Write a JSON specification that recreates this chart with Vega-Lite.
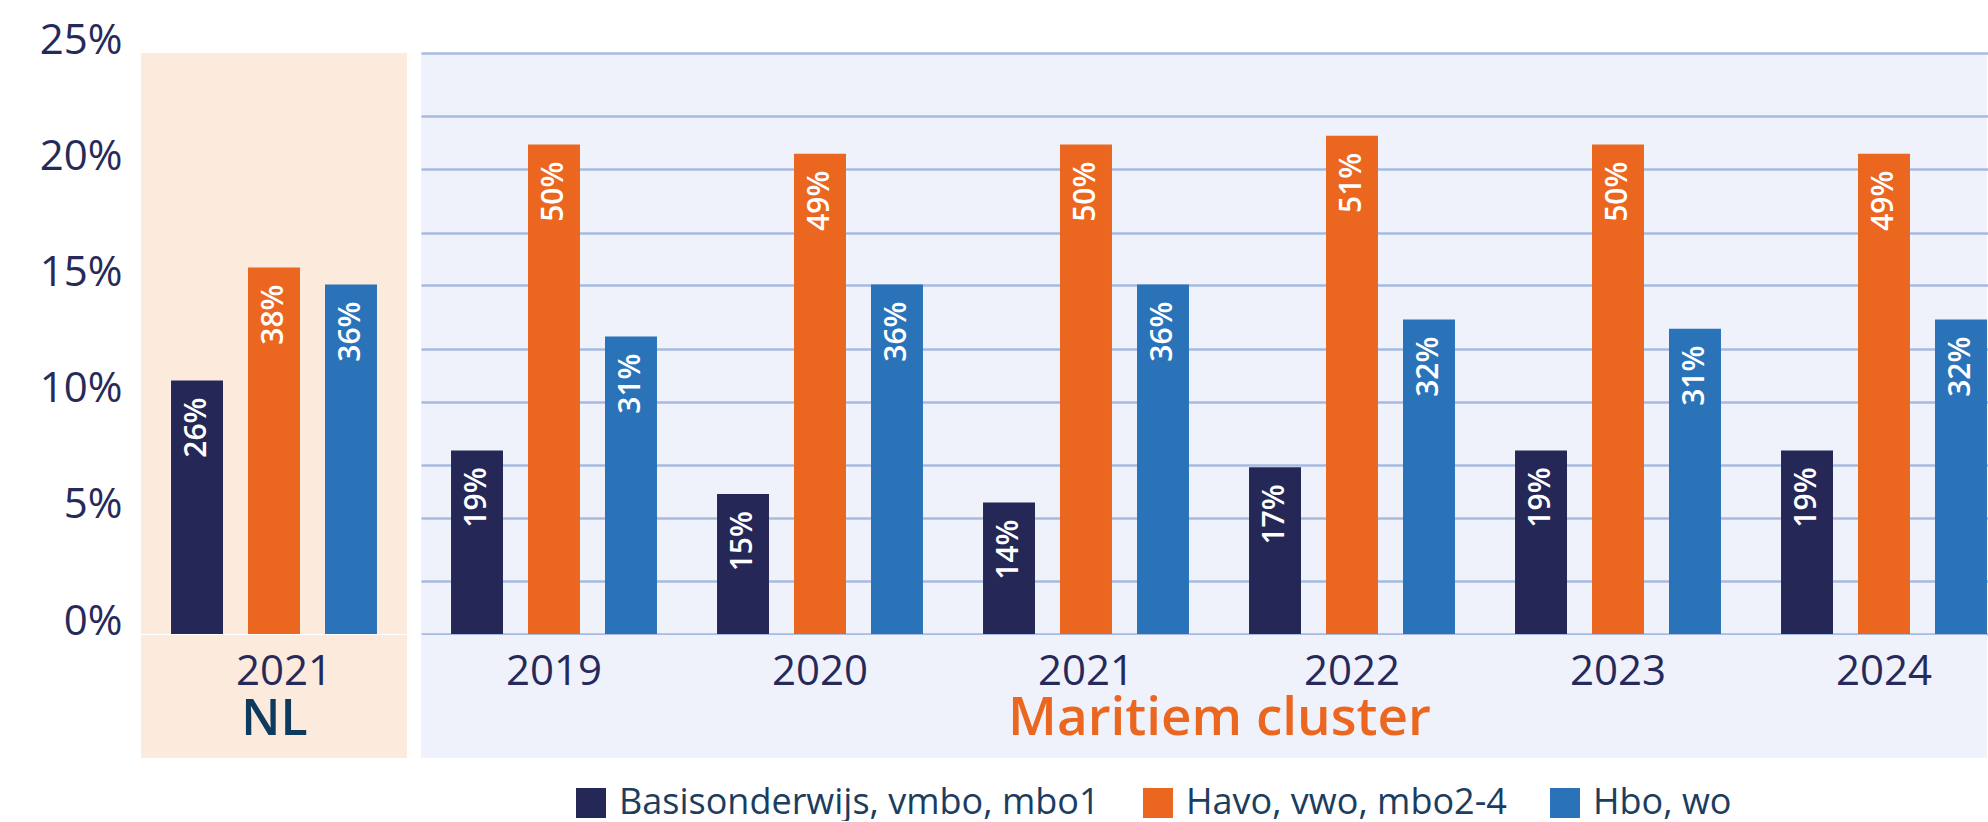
{
  "$schema": "https://vega.github.io/schema/vega-lite/v6.json",
  "background": "white",
  "padding": {"left": 39, "top": 19, "right": 0, "bottom": 0},
  "config": {
    "font": "Open Sans",
    "view": {"stroke": null},
    "axis": {"tickSize": 0, "ticks": false, "domain": false}
  },
  "spacing": 14,
  "datasets": {
    "nl": [
      {"year": "2021", "cat": "Basisonderwijs, vmbo, mbo1", "value": 10.91, "label": "26%"},
      {"year": "2021", "cat": "Havo, vwo, mbo2-4", "value": 15.77, "label": "38%"},
      {"year": "2021", "cat": "Hbo, wo", "value": 15.04, "label": "36%"}
    ],
    "mc": [
      {"year": "2019", "cat": "Basisonderwijs, vmbo, mbo1", "value": 7.90, "label": "19%"},
      {"year": "2019", "cat": "Havo, vwo, mbo2-4", "value": 21.06, "label": "50%"},
      {"year": "2019", "cat": "Hbo, wo", "value": 12.80, "label": "31%"},
      {"year": "2020", "cat": "Basisonderwijs, vmbo, mbo1", "value": 6.02, "label": "15%"},
      {"year": "2020", "cat": "Havo, vwo, mbo2-4", "value": 20.67, "label": "49%"},
      {"year": "2020", "cat": "Hbo, wo", "value": 15.04, "label": "36%"},
      {"year": "2021", "cat": "Basisonderwijs, vmbo, mbo1", "value": 5.66, "label": "14%"},
      {"year": "2021", "cat": "Havo, vwo, mbo2-4", "value": 21.06, "label": "50%"},
      {"year": "2021", "cat": "Hbo, wo", "value": 15.04, "label": "36%"},
      {"year": "2022", "cat": "Basisonderwijs, vmbo, mbo1", "value": 7.17, "label": "17%"},
      {"year": "2022", "cat": "Havo, vwo, mbo2-4", "value": 21.44, "label": "51%"},
      {"year": "2022", "cat": "Hbo, wo", "value": 13.53, "label": "32%"},
      {"year": "2023", "cat": "Basisonderwijs, vmbo, mbo1", "value": 7.90, "label": "19%"},
      {"year": "2023", "cat": "Havo, vwo, mbo2-4", "value": 21.06, "label": "50%"},
      {"year": "2023", "cat": "Hbo, wo", "value": 13.14, "label": "31%"},
      {"year": "2024", "cat": "Basisonderwijs, vmbo, mbo1", "value": 7.90, "label": "19%"},
      {"year": "2024", "cat": "Havo, vwo, mbo2-4", "value": 20.67, "label": "49%"},
      {"year": "2024", "cat": "Hbo, wo", "value": 13.53, "label": "32%"}
    ]
  },
  "resolve": {"scale": {"y": "shared", "x": "independent", "xOffset": "independent", "color": "shared"}},
  "hconcat": [
    {
      "width": 266,
      "height": 581,
      "view": {"fill": "#fcebdd", "stroke": null},
      "data": {"name": "nl"},
      "layer": [
        {
          "mark": {"type": "rect", "color": "#fcebdd"},
          "encoding": {
            "y": {"datum": -0.05, "type": "quantitative"},
            "y2": {"datum": -5.34}
          }
        },
        {
          "mark": {"type": "bar"},
          "encoding": {
            "x": {"field": "year", "type": "nominal", "scale": {"paddingInner": 0, "paddingOuter": 0},
              "axis": {"title": "NL", "labelAngle": 0, "labelFontSize": 42, "labelColor": "#262a5b", "labelPadding": 17, "labelOffset": 10,
                "titleFontSize": 50, "titleFontWeight": 600, "titleColor": "#0d3a5d", "titlePadding": 2, "zindex": 1}},
            "xOffset": {"field": "cat", "type": "nominal", "sort": ["Basisonderwijs, vmbo, mbo1", "Havo, vwo, mbo2-4", "Hbo, wo"],
              "scale": {"paddingInner": 0.325, "paddingOuter": 0.39}},
            "y": {"field": "value", "type": "quantitative", "scale": {"domain": [0, 25], "nice": false},
              "axis": {"title": null, "values": [0, 5, 10, 15, 20, 25], "labelExpr": "datum.value + '%'", "grid": false,
                "labelFontSize": 42, "labelColor": "#262a5b", "labelPadding": 19, "labelBaseline": "alphabetic"}},
            "color": {"field": "cat", "type": "nominal",
              "scale": {"domain": ["Basisonderwijs, vmbo, mbo1", "Havo, vwo, mbo2-4", "Hbo, wo"], "range": ["#252857", "#eb661f", "#2a73b9"]},
              "legend": {"orient": "none", "legendX": 432, "legendY": 732, "direction": "horizontal", "title": null,
                "symbolType": "square", "symbolSize": 900, "symbolStrokeWidth": 0, "labelFontSize": 36, "labelColor": "#1b3d5f",
                "labelOffset": 10, "columnPadding": 40, "labelLimit": 0, "padding": 0}}
          }
        },
        {
          "mark": {"type": "text", "angle": 270, "align": "right", "baseline": "middle", "dx": -17, "fontSize": 30, "fontWeight": 600, "color": "white"},
          "encoding": {
            "x": {"field": "year", "type": "nominal"},
            "xOffset": {"field": "cat", "type": "nominal", "sort": ["Basisonderwijs, vmbo, mbo1", "Havo, vwo, mbo2-4", "Hbo, wo"]},
            "y": {"field": "value", "type": "quantitative"},
            "text": {"field": "label"}
          }
        }
      ]
    },
    {
      "width": 1566,
      "height": 581,
      "view": {"fill": "#eff2fb", "stroke": null},
      "data": {"name": "mc"},
      "layer": [
        {
          "mark": {"type": "rect", "color": "#eff2fb"},
          "encoding": {
            "y": {"datum": -0.05, "type": "quantitative"},
            "y2": {"datum": -5.34}
          }
        },
        {
          "mark": {"type": "bar"},
          "encoding": {
            "x": {"field": "year", "type": "nominal", "scale": {"paddingInner": 0, "paddingOuter": 0, "rangeMax": 1596},
              "axis": {"title": "Maritiem cluster", "labelAngle": 0, "labelFontSize": 42, "labelColor": "#262a5b", "labelPadding": 17,
                "titleFontSize": 53, "titleFontWeight": 600, "titleColor": "#eb661f", "titlePadding": 0, "zindex": 1}},
            "xOffset": {"field": "cat", "type": "nominal", "sort": ["Basisonderwijs, vmbo, mbo1", "Havo, vwo, mbo2-4", "Hbo, wo"],
              "scale": {"paddingInner": 0.325, "paddingOuter": 0.39}},
            "y": {"field": "value", "type": "quantitative",
              "axis": {"title": null, "values": [0, 2.26, 5, 7.27, 10, 12.25, 15, 17.26, 20, 22.29, 25], "labels": false, "grid": true,
                "gridColor": "#a9bae0", "gridWidth": 2.5}},
            "color": {"field": "cat", "type": "nominal"}
          }
        },
        {
          "mark": {"type": "text", "angle": 270, "align": "right", "baseline": "middle", "dx": -17, "fontSize": 30, "fontWeight": 600, "color": "white"},
          "encoding": {
            "x": {"field": "year", "type": "nominal"},
            "xOffset": {"field": "cat", "type": "nominal", "sort": ["Basisonderwijs, vmbo, mbo1", "Havo, vwo, mbo2-4", "Hbo, wo"]},
            "y": {"field": "value", "type": "quantitative"},
            "text": {"field": "label"}
          }
        }
      ]
    }
  ]
}
